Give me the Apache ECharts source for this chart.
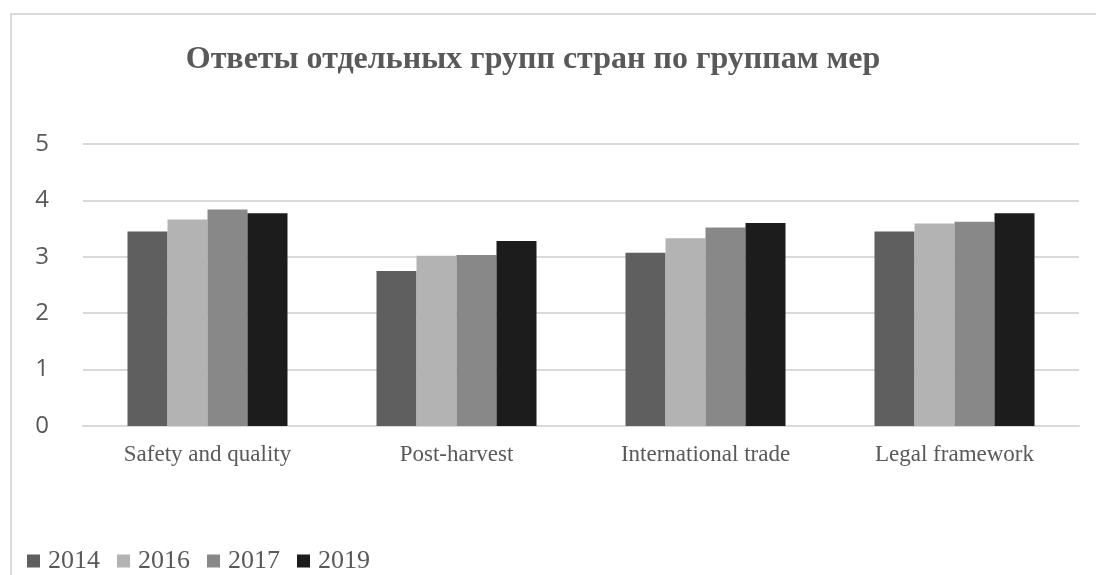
<!DOCTYPE html>
<html>
<head>
<meta charset="utf-8">
<script src="https://cdn.jsdelivr.net/npm/echarts@6/dist/echarts.min.js"></script>
<style>
  html, body { margin: 0; padding: 0; background: #fff; }
  #main { width: 1096px; height: 575px; }
</style>
</head>
<body>
<div id="main"></div>
<script>
// данные
const categories = ['Safety and quality', 'Post-harvest', 'International trade', 'Legal framework']
const years = ['2014', '2016', '2017', '2019']
const v2014 = [3.45, 2.75, 3.07, 3.45]
const v2016 = [3.66, 3.02, 3.33, 3.59]
const v2017 = [3.84, 3.03, 3.52, 3.62]
const v2019 = [3.77, 3.28, 3.60, 3.77]
const yTicks = [0, 1, 2, 3, 4, 5]

const colors = ['#5f5f5f', '#b3b3b3', '#888888', '#1c1c1c']
const values = [v2014, v2016, v2017, v2019]

let myChart = echarts.init(document.getElementById('main'))
let option = {
    animation: false,
    color: colors,
    title: {
        text: 'Ответы отдельных групп стран по группам мер',
        left: 528,
        textAlign: 'center',
        top: 39,
        textStyle: {
            fontFamily: 'Liberation Serif',
            fontWeight: 'bold',
            fontSize: 32,
            color: '#595959'
        }
    },
    graphic: [{
        type: 'polyline',
        shape: {points: [[11, 575], [11, 14], [1096, 14]]},
        style: {stroke: '#d9d9d9', lineWidth: 2, fill: null},
        silent: true
    }],
    legend: {
        data: years,
        left: 22,
        bottom: -4,
        icon: 'rect',
        itemWidth: 13,
        itemHeight: 13,
        itemGap: 17,
        textStyle: {
            fontFamily: 'Liberation Serif',
            fontSize: 26,
            color: '#595959',
            padding: [0, 0, 0, 3]
        }
    },
    grid: {
        left: 83,
        right: 17,
        top: 144,
        bottom: 149,
        containLabel: false
    },
    xAxis: {
        type: 'category',
        data: categories,
        axisLine: {lineStyle: {color: '#d9d9d9', width: 2}},
        axisTick: {show: false},
        axisLabel: {
            fontFamily: 'Liberation Serif',
            fontSize: 23,
            color: '#595959',
            margin: 17
        }
    },
    yAxis: {
        type: 'value',
        min: yTicks[0],
        max: yTicks[yTicks.length - 1],
        interval: 1,
        axisLine: {show: false},
        axisTick: {show: false},
        axisLabel: {
            fontFamily: 'Open Sans',
            fontSize: 24,
            color: '#595959',
            margin: 34
        },
        splitLine: {lineStyle: {color: '#d9d9d9', width: 2}}
    },
    series: years.map((y, i) => ({
        name: y,
        type: 'bar',
        data: values[i],
        barWidth: 40,
        barGap: '0%',
        itemStyle: {color: colors[i]}
    }))
}
myChart.setOption(option)
</script>
</body>
</html>
